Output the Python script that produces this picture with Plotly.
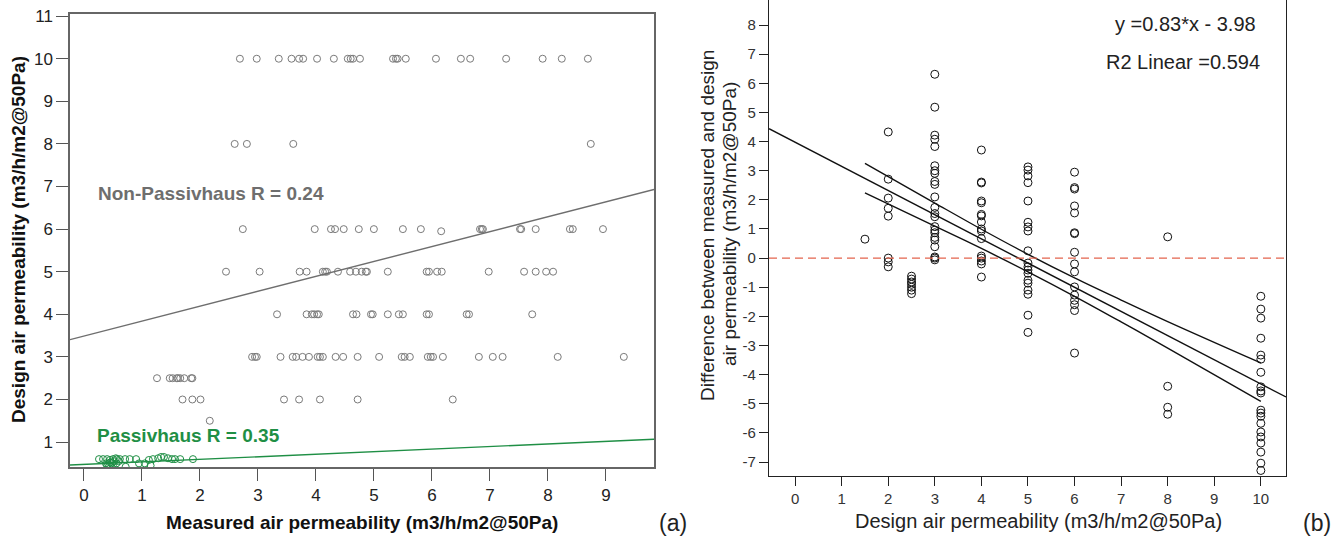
import plotly.graph_objects as go

W, H = 1343, 541
FONT = "Arial, Liberation Sans, sans-serif"

# ---------------- Panel (a) data ----------------
a_row10_x = [2.69, 2.98, 3.36, 3.58, 3.71, 3.78, 4.02, 4.31, 4.55, 4.60, 4.64, 4.76,
             5.33, 5.38, 5.41, 5.55, 6.07, 6.50, 6.66, 7.28, 7.91, 8.24, 8.69]
a_row8_x = [2.60, 2.81, 3.61, 8.74]
a_row6_x = [2.74, 3.98, 4.26, 4.33, 4.48, 4.74, 5.00, 5.50, 5.81, 6.83, 6.86, 6.88,
            7.52, 7.54, 7.79, 8.38, 8.43, 8.95]
a_row6b_x = [6.16]          # slightly below 6
a_row5_x = [2.45, 3.03, 3.72, 3.84, 4.12, 4.16, 4.19, 4.38, 4.59, 4.69, 4.79, 4.86,
            4.88, 5.24, 5.91, 5.95, 6.09, 6.17, 6.98, 7.59, 7.79, 7.97, 8.09]
a_row4_x = [3.33, 3.84, 3.93, 3.97, 4.02, 4.05, 4.64, 4.70, 4.95, 4.98, 5.24, 5.43,
            5.50, 5.91, 5.95, 6.60, 6.64, 7.73]
a_row3_x = [2.90, 2.95, 2.98, 3.39, 3.60, 3.66, 3.77, 3.88, 4.03, 4.07, 4.12, 4.34,
            4.47, 4.72, 5.09, 5.48, 5.53, 5.62, 5.93, 5.98, 6.02, 6.19, 6.81, 7.05,
            7.22, 8.17, 9.31]
a_row25_x = [1.26, 1.48, 1.53, 1.60, 1.62, 1.66, 1.73, 1.85, 1.87]
a_row2_x = [1.70, 1.87, 2.01, 3.45, 3.71, 4.07, 4.72, 6.36]
a_row15_x = [2.17]

ph_x = [0.26, 0.33, 0.40, 0.45, 0.50, 0.55, 0.57, 0.62, 0.71, 0.79, 0.90, 1.12, 1.19,
        1.28, 1.33, 1.38, 1.45, 1.52, 1.57, 1.66, 1.88, 0.38, 0.42, 0.45, 0.48, 0.52,
        0.56, 0.60, 0.72, 0.95, 1.05, 1.15, 0.40, 0.44, 0.50]
ph_y = [0.60, 0.60, 0.60, 0.58, 0.60, 0.62, 0.60, 0.60, 0.60, 0.60, 0.60, 0.58, 0.60,
        0.62, 0.65, 0.65, 0.62, 0.60, 0.60, 0.60, 0.60, 0.50, 0.48, 0.52, 0.50, 0.55,
        0.50, 0.55, 0.42, 0.50, 0.50, 0.45, 0.45, 0.45, 0.45]

nonph_fit = (0.35, 3.49)   # slope, intercept
ph_fit = (0.06, 0.475)

a_xticks = [0, 1, 2, 3, 4, 5, 6, 7, 8, 9]
a_yticks = [1, 2, 3, 4, 5, 6, 7, 8, 9, 10, 11]
a_xrange = [-0.24, 9.83]
a_yrange = [0.415, 11.05]

# ---------------- Panel (b) data ----------------
b_cols = {
    1.5: [0.65],
    2.0: [4.33, 2.71, 2.06, 1.71, 1.44, 0.0, -0.13, -0.30],
    2.5: [-0.62, -0.72, -0.82, -0.90, -1.00, -1.10, -1.22],
    3.0: [6.31, 5.18, 4.22, 4.08, 3.83, 3.17, 3.00, 2.91, 2.63, 2.53, 2.10, 1.74, 1.53,
          1.42, 1.08, 0.96, 0.87, 0.71, 0.62, 0.39, 0.04, 0.0, -0.06],
    4.0: [3.71, 2.61, 2.58, 1.96, 1.90, 1.50, 1.45, 1.24, 1.00, 0.93, 0.67, 0.07, 0.0,
          -0.10, -0.20, -0.65],
    5.0: [3.13, 3.02, 2.82, 2.59, 1.96, 1.23, 1.07, 0.93, 0.25, -0.17, -0.30, -0.41,
          -0.52, -0.76, -0.86, -1.10, -1.24, -1.96, -2.55],
    6.0: [2.95, 2.42, 2.37, 1.79, 1.55, 0.87, 0.84, 0.20, -0.20, -0.47, -0.99, -1.27,
          -1.45, -1.60, -1.80, -3.26],
    8.0: [0.73, -4.40, -5.12, -5.36],
    10.0: [-1.31, -1.75, -2.06, -2.75, -3.33, -3.47, -3.92, -4.42, -4.56, -4.63, -5.22,
           -5.32, -5.43, -5.67, -5.97, -6.14, -6.35, -6.66, -7.04, -7.29],
}
b_fit = (-0.83, 3.98)
ci_x = [1.5, 3, 4, 5, 6, 7, 8, 10]
ci_upper = [3.255, 1.89, 0.99, 0.13, -0.68, -1.44, -2.18, -3.60]
ci_lower = [2.235, 1.10, 0.33, -0.47, -1.31, -2.19, -3.09, -4.92]

b_xticks = [0, 1, 2, 3, 4, 5, 6, 7, 8, 9, 10]
b_yticks = [-7, -6, -5, -4, -3, -2, -1, 0, 1, 2, 3, 4, 5, 6, 7, 8]
b_yticklabels = ["-7", "-6", "-5", "-4", "-3", "-2", "-1", "0", "1", "2", "3", "4",
                 "5", "6", "7", "8"]
b_xrange = [-0.56, 10.54]
b_yrange = [-7.48, 8.86]


def px(x):
    return x / W


def py(y):
    return 1 - y / H


fig = go.Figure()

gray_marker = dict(symbol="circle-open", size=7, color="#7a7a7a", line=dict(width=1))
rows = [(a_row10_x, 10), (a_row8_x, 8), (a_row6_x, 6), (a_row6b_x, 5.95), (a_row5_x, 5),
        (a_row4_x, 4), (a_row3_x, 3), (a_row25_x, 2.5), (a_row2_x, 2), (a_row15_x, 1.5)]
for xs, yv in rows:
    fig.add_trace(go.Scatter(x=xs, y=[yv] * len(xs), mode="markers", marker=gray_marker,
                             xaxis="x", yaxis="y", showlegend=False, hoverinfo="skip"))

fig.add_trace(go.Scatter(x=ph_x, y=ph_y, mode="markers",
                         marker=dict(symbol="circle-open", size=7, color="#1f8f45",
                                     line=dict(width=1)),
                         xaxis="x", yaxis="y", showlegend=False))

for (m, c), col in [(nonph_fit, "#6e6e6e"), (ph_fit, "#1f8f45")]:
    fig.add_trace(go.Scatter(x=a_xrange, y=[m * v + c for v in a_xrange], mode="lines",
                             line=dict(color=col, width=1.4), xaxis="x", yaxis="y",
                             showlegend=False))

# panel (b)
bx, by = [], []
for k, vals in b_cols.items():
    bx += [k] * len(vals)
    by += vals
fig.add_trace(go.Scatter(x=bx, y=by, mode="markers",
                         marker=dict(symbol="circle-open", size=8, color="#111",
                                     line=dict(width=1)),
                         xaxis="x2", yaxis="y2", showlegend=False))
fig.add_trace(go.Scatter(x=b_xrange, y=[b_fit[0] * v + b_fit[1] for v in b_xrange],
                         mode="lines", line=dict(color="#111", width=1.4),
                         xaxis="x2", yaxis="y2", showlegend=False))
for arr in (ci_upper, ci_lower):
    fig.add_trace(go.Scatter(x=ci_x, y=arr, mode="lines", line=dict(color="#111", width=1.4),
                             line_shape="spline",
                             xaxis="x2", yaxis="y2", showlegend=False))
fig.add_trace(go.Scatter(x=b_xrange, y=[0, 0], mode="lines",
                         line=dict(color="#e4644e", width=1.4, dash="8px,5px"),
                         xaxis="x2", yaxis="y2", showlegend=False))

axis_common = dict(showgrid=False, zeroline=False, showline=True, automargin=False,
                   ticks="outside", fixedrange=True)

fig.update_layout(
    width=W, height=H, margin=dict(l=0, r=0, t=0, b=0, pad=0, autoexpand=False),
    paper_bgcolor="white", plot_bgcolor="white", showlegend=False,
    font=dict(family=FONT, color="#222"),
    xaxis=dict(domain=[px(70), px(654)], range=a_xrange, tickvals=a_xticks, mirror=True,
               ticklen=12, tickcolor="#555", linecolor="#666", linewidth=1.5,
               tickfont=dict(size=17, color="#222"), anchor="y", **axis_common),
    yaxis=dict(domain=[py(467), py(14)], range=a_yrange, tickvals=a_yticks, mirror=True,
               ticklen=12, tickcolor="#555", linecolor="#666", linewidth=1.5,
               tickfont=dict(size=17, color="#222"), anchor="x", **axis_common),
    xaxis2=dict(domain=[px(769), px(1286)], range=b_xrange, tickvals=b_xticks, mirror=False,
                ticklen=9, tickcolor="#222", linecolor="#222", linewidth=1.3,
                tickfont=dict(size=15, color="#333"), anchor="y2", **axis_common),
    yaxis2=dict(domain=[py(476), 1], range=b_yrange, tickvals=b_yticks,
                ticktext=b_yticklabels, mirror=True,
                ticklen=9, tickcolor="#222", linecolor="#222", linewidth=1.3,
                tickfont=dict(size=15, color="#333"), anchor="x2", **axis_common),
)

ann = []
ann.append(dict(x=px(362), y=py(522), text="<b>Measured air permeability (m3/h/m2@50Pa)</b>",
                font=dict(size=19, color="#111")))
ann.append(dict(x=px(18), y=py(240), textangle=-90,
                text="<b>Design air permeability (m3/h/m2@50Pa)</b>",
                font=dict(size=19, color="#111")))
ann.append(dict(x=px(96), y=py(193), xanchor="left", text="<b>Non-Passivhaus R = 0.24</b>",
                font=dict(size=19, color="#6e6e6e")))
ann.append(dict(x=px(95), y=py(435), xanchor="left", text="<b>Passivhaus R = 0.35</b>",
                font=dict(size=19, color="#1f8f45")))
ann.append(dict(x=px(673), y=py(523), text="(a)", font=dict(size=23, color="#222")))
ann.append(dict(x=px(1317), y=py(523), text="(b)", font=dict(size=23, color="#222")))
ann.append(dict(x=px(1038), y=py(521), text="Design air permeability (m3/h/m2@50Pa)",
                font=dict(size=20, color="#222")))
ann.append(dict(x=px(708), y=py(225), textangle=-90,
                text="Difference between measured and design",
                font=dict(size=19, color="#222")))
ann.append(dict(x=px(729), y=py(224), textangle=-90,
                text="air permeability (m3/h/m2@50Pa)",
                font=dict(size=19, color="#222")))
ann.append(dict(x=px(1185), y=py(24), text="y =0.83*x - 3.98", font=dict(size=20, color="#222")))
ann.append(dict(x=px(1183), y=py(62), text="R2 Linear =0.594", font=dict(size=20, color="#222")))

for a in ann:
    a.update(xref="paper", yref="paper", showarrow=False)
    a.setdefault("xanchor", "center")
    a["yanchor"] = "middle"
    a["font"]["family"] = FONT
fig.update_layout(annotations=ann)

fig.write_html("out.html", config={"displayModeBar": False})
